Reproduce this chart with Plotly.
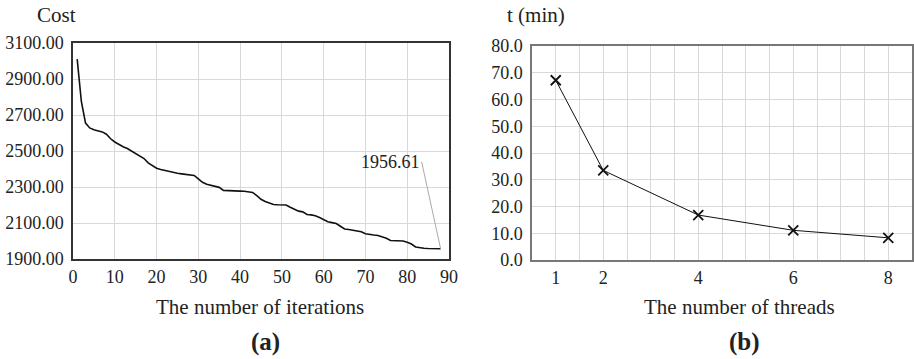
import plotly.graph_objects as go

# ---- data: panel (a)
iterations = list(range(1, 89))
cost = [3010, 2775, 2655, 2628, 2618, 2614, 2606, 2593, 2568, 2550,
        2535, 2524, 2514, 2500, 2488, 2474, 2458, 2434, 2418, 2404,
        2397, 2392, 2385, 2378, 2376, 2373, 2369, 2367, 2364, 2345,
        2326, 2315, 2309, 2305, 2298, 2281, 2279, 2278, 2278, 2277,
        2276, 2274, 2270, 2252, 2232, 2220, 2210, 2203, 2201, 2201,
        2200, 2188, 2175, 2166, 2162, 2147, 2145, 2140, 2130, 2120,
        2107, 2102, 2097, 2082, 2067, 2064, 2060, 2054, 2051, 2040,
        2035, 2033, 2031, 2024, 2015, 2003, 2002, 2002, 2000, 1993,
        1983, 1967, 1962, 1960, 1958, 1957, 1957, 1956.61]
final_label = "1956.61"

# ---- data: panel (b)
threads = [1, 2, 4, 6, 8]
time_min = [67.2, 33.5, 16.8, 11.1, 8.3]
thread_ticks = [1, 2, 4, 6, 8]

FONT = "Liberation Serif"
W, H = 914, 359

fig = go.Figure()
fig.add_trace(go.Scatter(x=iterations, y=cost, mode="lines",
                         line=dict(color="#111111", width=1.6),
                         xaxis="x", yaxis="y", showlegend=False))
fig.add_trace(go.Scatter(x=threads, y=time_min, mode="lines+markers",
                         line=dict(color="#111111", width=1),
                         marker=dict(symbol="x-thin", size=10,
                                     line=dict(color="#111111", width=1.8)),
                         xaxis="x2", yaxis="y2", showlegend=False))

grid = "#d9d9d9"
tickfont = dict(family=FONT, size=18, color="#222222")

fig.update_layout(
    width=W, height=H,
    margin=dict(l=0, r=0, t=0, b=0),
    paper_bgcolor="white", plot_bgcolor="white",
    font=dict(family=FONT, color="#222222"),
    xaxis=dict(domain=[73/W, 449/W], range=[0, 90], dtick=10,
               showgrid=True, gridcolor=grid, gridwidth=1,
               showline=True, linecolor="#333333", linewidth=1.5, mirror=True,
               zeroline=False, ticks="", tickfont=tickfont, anchor="y",
               ticklabelstandoff=1, automargin=False),
    yaxis=dict(domain=[1-259/H, 1-43/H], range=[1900, 3100], dtick=200, tick0=1900,
               tickformat=".2f",
               showgrid=True, gridcolor=grid, gridwidth=1,
               showline=True, linecolor="#333333", linewidth=1.5, mirror=True,
               zeroline=False, ticks="", tickfont=tickfont, anchor="x",
               ticklabelstandoff=4, automargin=False),
    xaxis2=dict(domain=[532/W, 912/W], range=[0.5, 8.5],
                tickmode="array", tickvals=thread_ticks,
                showgrid=True, gridcolor=grid, gridwidth=1,
                minor=dict(dtick=0.5, tick0=0.5, showgrid=True, gridcolor=grid, gridwidth=1),
                showline=True, linecolor="#777777", linewidth=1.5, mirror=True,
                zeroline=False, ticks="", tickfont=tickfont, anchor="y2",
                ticklabelstandoff=1, automargin=False),
    yaxis2=dict(domain=[1-260/H, 1-46/H], range=[0, 80], dtick=10, tick0=0,
                tickformat=".1f",
                showgrid=True, gridcolor=grid, gridwidth=1,
                showline=True, linecolor="#777777", linewidth=1.5, mirror=True,
                zeroline=False, ticks="", tickfont=tickfont, anchor="x2",
                ticklabelstandoff=4, automargin=False),
)

annos = [
    dict(text="Cost", x=56, y=15, size=21),
    dict(text="t (min)", x=536, y=15, size=21),
    dict(text="The number of iterations", x=260, y=307, size=21),
    dict(text="The number of threads", x=739, y=307, size=21),
    dict(text="<b>(a)</b>", x=265, y=342, size=25),
    dict(text="<b>(b)</b>", x=744, y=342, size=25),
]
for a in annos:
    fig.add_annotation(text=a["text"], xref="paper", yref="paper",
                       x=a["x"]/W, y=1-a["y"]/H, showarrow=False,
                       xanchor="center", yanchor="middle",
                       font=dict(family=FONT, size=a.get("size", 18), color="#222222"))

fig.add_annotation(text=final_label, x=iterations[-1], y=cost[-1],
                   xref="x", yref="y", showarrow=True, arrowhead=0,
                   arrowcolor="#aaaaaa", arrowwidth=1,
                   ax=-19, ay=-87, xanchor="right", yanchor="middle",
                   font=dict(family=FONT, size=18, color="#222222"))

fig.write_html("out.html", config={"displayModeBar": False},
               post_script="document.body.style.margin='0';")
